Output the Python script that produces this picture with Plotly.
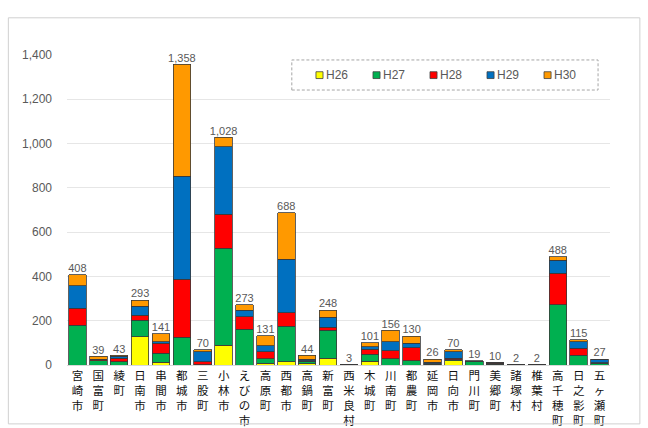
import plotly.graph_objects as go

# Municipalities (x categories)
towns = ["宮崎市", "国富町", "綾町", "日南市", "串間市", "都城市", "三股町", "小林市", "えびの市",
         "高原町", "西都市", "高鍋町", "新富町", "西米良村", "木城町", "川南町", "都農町", "延岡市",
         "日向市", "門川町", "美郷町", "諸塚村", "椎葉村", "高千穂町", "日之影町", "五ヶ瀬町"]

# Yearly counts per municipality
h26 = [0, 0, 0, 128, 12, 0, 0, 90, 0, 9, 15, 5, 30, 0, 18, 0, 0, 0, 20, 0, 0, 0, 0, 0, 0, 0]
h27 = [180, 19, 14, 75, 41, 125, 2, 437, 161, 20, 161, 12, 128, 1, 30, 28, 20, 3, 3, 14, 4, 1, 1, 271, 45, 8]
h28 = [76, 4, 16, 21, 45, 262, 13, 153, 57, 30, 60, 3, 12, 0, 23, 36, 57, 3, 7, 2, 3, 0, 0, 143, 30, 2]
h29 = [101, 3, 10, 42, 8, 466, 45, 306, 30, 27, 241, 5, 45, 2, 12, 40, 21, 6, 30, 2, 3, 1, 1, 60, 30, 15]
h30 = [51, 13, 3, 27, 35, 505, 10, 42, 25, 45, 211, 19, 33, 0, 18, 52, 32, 14, 10, 1, 0, 0, 0, 14, 10, 2]

series = [("H26", h26, "#FFFF00"), ("H27", h27, "#00B050"), ("H28", h28, "#FF0000"),
          ("H29", h29, "#0070C0"), ("H30", h30, "#FF9900")]

y_ticks = [0, 200, 400, 600, 800, 1000, 1200, 1400]

totals = [sum(v) for v in zip(h26, h27, h28, h29, h30)]
tick_text = ["<br>".join(list(t)) for t in towns]

fig = go.Figure()
for name, vals, color in series:
    fig.add_trace(go.Bar(
        x=towns, y=vals, name=name, showlegend=False,
        marker=dict(color=color, line=dict(color="#3a3a3a", width=0.8)),
    ))

# stack totals above each bar
fig.add_trace(go.Scatter(
    x=towns, y=totals, mode="text",
    text=[f"{t:,}" for t in totals], textposition="top center",
    textfont=dict(family="Liberation Sans, Arial", size=11, color="#595959"),
    showlegend=False, hoverinfo="skip", cliponaxis=False,
))

# compact legend inside a dashed box
shapes = [
    dict(type="rect", xref="paper", yref="paper", x0=0.414, x1=0.978, y0=0.887, y1=0.984,
         line=dict(color="#a6a6a6", width=1, dash="3px,2px"), fillcolor="rgba(0,0,0,0)"),
    dict(type="rect", xref="paper", yref="paper", x0=-0.108, x1=1.055, y0=-0.19, y1=1.12,
         line=dict(color="#d0d0d0", width=1), fillcolor="rgba(0,0,0,0)"),
]
annotations = []
legend_x0 = 0.465
legend_step = 0.105
for i, (name, _, color) in enumerate(series):
    cx = legend_x0 + i * legend_step
    shapes.append(dict(type="rect", xref="paper", yref="paper",
                       x0=cx - 0.0065, x1=cx + 0.0065, y0=0.924, y1=0.946,
                       line=dict(color="#404040", width=0.8), fillcolor=color))
    annotations.append(dict(xref="paper", yref="paper", x=cx + 0.008, y=0.935,
                            xanchor="left", yanchor="middle", showarrow=False, text=name,
                            font=dict(family="Liberation Sans, Arial", size=12, color="#595959")))

fig.update_layout(
    barmode="stack",
    bargap=0.16,
    width=648, height=428,
    margin=dict(l=67, r=38, t=55, b=63),
    plot_bgcolor="white", paper_bgcolor="white",
    font=dict(family="Liberation Sans, Arial", color="#595959"),
    showlegend=False,
    xaxis=dict(
        tickmode="array", tickvals=towns, ticktext=tick_text,
        tickfont=dict(family="Noto Sans CJK JP", size=11.5, color="#111111"),
        tickangle=0, showline=True, linecolor="#d9d9d9", ticks="",
        range=[-0.5, len(towns) - 0.5], automargin=False,
    ),
    yaxis=dict(
        range=[0, 1400], tickvals=y_ticks, tickformat=",",
        tickfont=dict(size=12, color="#595959"),
        gridcolor="#e6e6e6", zeroline=False, showline=False, ticks="",
        ticklabelstandoff=14, automargin=False,
    ),
    shapes=shapes,
    annotations=annotations,
)

fig.write_html("out.html")
